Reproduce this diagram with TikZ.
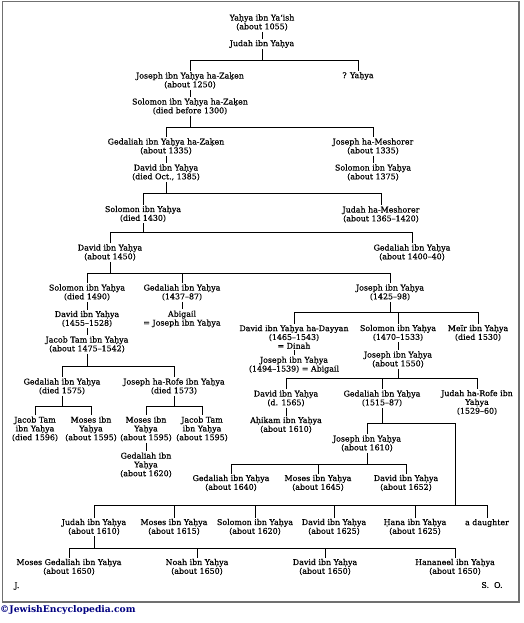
\documentclass[tikz,border=0pt]{standalone}
\usepackage{fontspec}
\setmainfont{DejaVu Serif}
\newfontfamily\treefont[FakeBold=0.5]{DejaVu Serif}
\definecolor{framegray}{RGB}{112,112,112}
\definecolor{jenavy}{RGB}{0,0,128}
\tikzset{
  person/.style={align=center, inner sep=1.2pt, font=\treefont\fontsize{7.9}{8.8}\selectfont},
  kin/.style={line width=0.75pt}
}
\begin{document}
\begin{tikzpicture}[x=1pt,y=-1pt]
\useasboundingbox (0,0) rectangle (523,623);
\draw[framegray, line width=1.6pt] (2.5,1.5) rectangle (519,602);

% Bars of the tree
\coordinate (b1) at (0,60);
\coordinate (b2) at (0,127);
\coordinate (b3) at (0,193);
\coordinate (b4) at (0,232);
\coordinate (b5) at (0,273);
\coordinate (b6) at (0,366);
\coordinate (b7) at (0,406);
\coordinate (b9) at (0,312);
\coordinate (b10) at (0,378);
\coordinate (b11) at (0,423);
\coordinate (b12) at (0,464);
\coordinate (b13) at (0,505);
\coordinate (b14) at (0,548);

% Persons
\node[person] (yahya) at (262,22.5) {Yaḥya ibn Ya‘ish\\(about 1055)};
\node[person] (judah1) at (262,44) {Judah ibn Yaḥya};
\node[person] (josephz) at (190,80.5) {Joseph ibn Yaḥya ha-Zaḳen\\(about 1250)};
\node[person] (qyahya) at (358,76) {? Yaḥya};
\node[person] (solomonz) at (190,106.5) {Solomon ibn Yaḥya ha-Zaḳen\\(died before 1300)};
\node[person] (gedaliahz) at (166,146.5) {Gedaliah ibn Yaḥya ha-Zaḳen\\(about 1335)};
\node[person] (josephm) at (373,146.5) {Joseph ha-Meshorer\\(about 1335)};
\node[person] (david1385) at (166,172.5) {David ibn Yaḥya\\(died Oct., 1385)};
\node[person] (solomon1375) at (373,172.5) {Solomon ibn Yaḥya\\(about 1375)};
\node[person] (solomon1430) at (143,214) {Solomon ibn Yaḥya\\(died 1430)};
\node[person] (judahm) at (381,214.5) {Judah ha-Meshorer\\(about 1365–1420)};
\node[person] (david1450) at (110,252.5) {David ibn Yaḥya\\(about 1450)};
\node[person] (gedaliah1440) at (412,252.5) {Gedaliah ibn Yaḥya\\(about 1400–40)};
\node[person] (solomon1490) at (87,292.5) {Solomon ibn Yaḥya\\(died 1490)};
\node[person] (gedaliah1487) at (182,292.5) {Gedaliah ibn Yaḥya\\(1437–87)};
\node[person] (joseph1498) at (390,292.5) {Joseph ibn Yaḥya\\(1425–98)};
\node[person] (david1528) at (87,319) {David ibn Yaḥya\\(1455–1528)};
\node[person] (abigail) at (182,319) {Abigail\\= Joseph ibn Yaḥya};
\node[person] (jacob1542) at (87,344.5) {Jacob Tam ibn Yaḥya\\(about 1475–1542)};
\node[person] (gedaliah1575) at (62,386.5) {Gedaliah ibn Yaḥya\\(died 1575)};
\node[person] (josephr) at (174,386.5) {Joseph ha-Rofe ibn Yaḥya\\(died 1573)};
\node[person] (jacob1596) at (35,429) {Jacob Tam\\ibn Yaḥya\\(died 1596)};
\node[person] (moses1595a) at (91,429) {Moses ibn\\Yaḥya\\(about 1595)};
\node[person] (moses1595b) at (146,429) {Moses ibn\\Yaḥya\\(about 1595)};
\node[person] (jacob1595) at (202,429) {Jacob Tam\\ibn Yaḥya\\(about 1595)};
\node[person] (gedaliah1620) at (146,465) {Gedaliah ibn\\Yaḥya\\(about 1620)};
\node[person] (davidd) at (294,337) {David ibn Yaḥya ha-Dayyan\\(1465–1543)\\= Dinah};
\node[person] (solomon1533) at (398,333) {Solomon ibn Yaḥya\\(1470–1533)};
\node[person] (meir) at (478,333) {Meïr ibn Yaḥya\\(died 1530)};
\node[person] (joseph1539) at (294,365) {Joseph ibn Yaḥya\\(1494–1539) = Abigail};
\node[person] (joseph1550) at (398,359.5) {Joseph ibn Yaḥya\\(about 1550)};
\node[person] (david1565) at (286,398.5) {David ibn Yaḥya\\(d. 1565)};
\node[person] (gedaliah1587) at (382,398.5) {Gedaliah ibn Yaḥya\\(1515–87)};
\node[person] (judahr) at (477,402.5) {Judah ha-Rofe ibn\\Yaḥya\\(1529–60)};
\node[person] (ahikam) at (286,425) {Aḥikam ibn Yaḥya\\(about 1610)};
\node[person] (joseph1610) at (367,443.5) {Joseph ibn Yaḥya\\(about 1610)};
\node[person] (gedaliah1640) at (231,483) {Gedaliah ibn Yaḥya\\(about 1640)};
\node[person] (moses1645) at (318,483) {Moses ibn Yaḥya\\(about 1645)};
\node[person] (david1652) at (406,483) {David ibn Yaḥya\\(about 1652)};
\node[person] (judah1610) at (94,527) {Judah ibn Yaḥya\\(about 1610)};
\node[person] (moses1615) at (174,527) {Moses ibn Yaḥya\\(about 1615)};
\node[person] (solomon1620) at (255,527) {Solomon ibn Yaḥya\\(about 1620)};
\node[person] (david1625) at (334,527) {David ibn Yaḥya\\(about 1625)};
\node[person] (hana) at (415,527) {Ḥana ibn Yaḥya\\(about 1625)};
\node[person] (daughter) at (487,523) {a daughter};
\node[person] (mosesg) at (69,567) {Moses Gedaliah ibn Yaḥya\\(about 1650)};
\node[person] (noah) at (197,567) {Noah ibn Yaḥya\\(about 1650)};
\node[person] (david1650) at (325,567) {David ibn Yaḥya\\(about 1650)};
\node[person] (hananeel) at (455,567) {Hananeel ibn Yaḥya\\(about 1650)};

% Line of descent
\draw[kin] (yahya) -- (judah1);
\draw[kin] (judah1.south) -- (judah1.south |- b1);
\draw[kin] (josephz.north) |- (qyahya.north |- b1) -- (qyahya.north);
\draw[kin] (josephz) -- (solomonz);
\draw[kin] (solomonz.south) -- (solomonz.south |- b2);
\draw[kin] (gedaliahz.north) |- (josephm.north |- b2) -- (josephm.north);
\draw[kin] (gedaliahz) -- (david1385);
\draw[kin] (josephm) -- (solomon1375);
\draw[kin] (david1385.south) -- (david1385.south |- b3);
\draw[kin] (solomon1430.north) |- (judahm.north |- b3) -- (judahm.north);
\draw[kin] (solomon1430.south) -- (solomon1430.south |- b4);
\draw[kin] (david1450.north) |- (gedaliah1440.north |- b4) -- (gedaliah1440.north);
\draw[kin] (david1450.south) -- (david1450.south |- b5);
\draw[kin] (solomon1490.north) |- (joseph1498.north |- b5) -- (joseph1498.north);
\draw[kin] (gedaliah1487.north) -- (gedaliah1487.north |- b5);
\draw[kin] (solomon1490) -- (david1528);
\draw[kin] (gedaliah1487) -- (abigail);
\draw[kin] (david1528) -- (jacob1542);
\draw[kin] (jacob1542.south) -- (jacob1542.south |- b6);
\draw[kin] (gedaliah1575.north) |- (josephr.north |- b6) -- (josephr.north);
\draw[kin] (gedaliah1575.south) -- (gedaliah1575.south |- b7);
\draw[kin] (jacob1596.north) |- (moses1595a.north |- b7) -- (moses1595a.north);
\draw[kin] (josephr.south) -- (josephr.south |- b7);
\draw[kin] (moses1595b.north) |- (jacob1595.north |- b7) -- (jacob1595.north);
\draw[kin] (moses1595b) -- (gedaliah1620);

% Branch of Joseph (1425-98)
\draw[kin] (joseph1498.south) -- (joseph1498.south |- b9);
\draw[kin] (davidd.north) |- (meir.north |- b9) -- (meir.north);
\draw[kin] (solomon1533.north) -- (solomon1533.north |- b9);
\draw[kin] (davidd) -- (joseph1539);
\draw[kin] (solomon1533) -- (joseph1550);
\draw[kin] (joseph1550.south) -- (joseph1550.south |- b10);
\draw[kin] (david1565.north) |- (judahr.north |- b10) -- (judahr.north);
\draw[kin] (gedaliah1587.north) -- (gedaliah1587.north |- b10);
\draw[kin] (david1565) -- (ahikam);
\coordinate (jn) at (455,423);
\coordinate (jm) at (455,505);
\draw[kin] (gedaliah1587.south) -- (gedaliah1587.south |- b11);
\draw[kin] (joseph1610.north) |- (jn) -- (jm);
\draw[kin] (joseph1610.south) -- (joseph1610.south |- b12);
\draw[kin] (gedaliah1640.north) |- (david1652.north |- b12) -- (david1652.north);
\draw[kin] (moses1645.north) -- (moses1645.north |- b12);
\draw[kin] (judah1610.north) |- (daughter.north |- b13) -- (daughter.north);
\foreach \kid in {moses1615,solomon1620,david1625,hana}
  \draw[kin] (\kid.north) -- (\kid.north |- b13);
\draw[kin] (judah1610.south) -- (judah1610.south |- b14);
\draw[kin] (mosesg.north) |- (hananeel.north |- b14) -- (hananeel.north);
\draw[kin] (noah.north) -- (noah.north |- b14);
\draw[kin] (david1650.north) -- (david1650.north |- b14);

% Signatures
\node[person, anchor=west] (sigj) at (13,586) {J.};
\node[person] (sigso) at (492,585) {S.\ \ O.};
\node[anchor=west, inner sep=0pt, text=jenavy, font=\fontsize{9.2}{10}\selectfont\bfseries] (copy) at (0,610) {©JewishEncyclopedia.com};
\end{tikzpicture}
\end{document}
